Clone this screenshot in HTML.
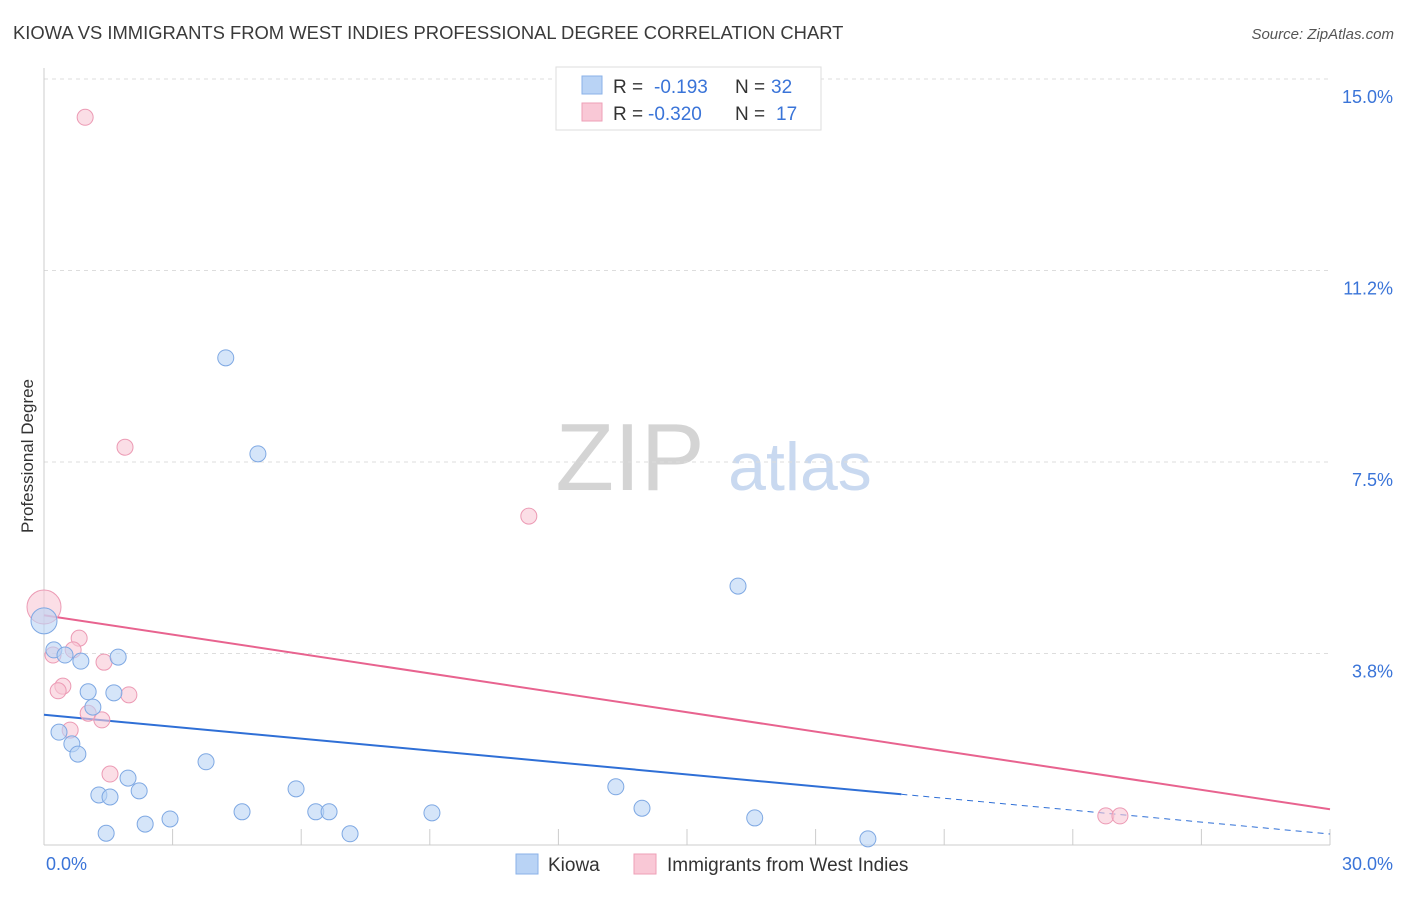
<!DOCTYPE html>
<html><head><meta charset="utf-8"><style>
body{margin:0;background:#fff;font-family:"Liberation Sans",sans-serif}
text{font-family:"Liberation Sans",sans-serif}
</style></head><body>
<svg id="chart" width="1406" height="892" xmlns="http://www.w3.org/2000/svg">
<text x="13" y="39" font-size="18.4" fill="#3a3a3a">KIOWA VS IMMIGRANTS FROM WEST INDIES PROFESSIONAL DEGREE CORRELATION CHART</text>
<text x="1394" y="39" font-size="15" fill="#555" text-anchor="end" font-style="italic">Source: ZipAtlas.com</text>
<text transform="translate(33,456) rotate(-90)" font-size="17" fill="#333" text-anchor="middle">Professional Degree</text>
<g>
<text x="630" y="490" font-size="96" fill="#d4d4d4" font-family="Liberation Serif,serif" text-anchor="middle">ZIP</text>
<text x="800" y="490" font-size="68" fill="#c9d9f0" text-anchor="middle">atlas</text>
</g>
<g id="grid"></g>
<g id="axes"></g>
<g id="lines"></g>
<g id="points"></g>
<g>
<rect x="556" y="67" width="265" height="63" fill="#fff" stroke="#ddd"/>
<rect x="582" y="76" width="20" height="18" fill="#b9d3f5" stroke="#8ab1e8"/>
<text x="613" y="93" font-size="19" fill="#333">R = </text><text x="654" y="93" font-size="19" fill="#3a74d8">-0.193</text>
<text x="735" y="93" font-size="19" fill="#333">N = </text><text x="771" y="93" font-size="19" fill="#3a74d8">32</text>
<rect x="582" y="103" width="20" height="18" fill="#f9c8d6" stroke="#ee9fb7"/>
<text x="613" y="120" font-size="19" fill="#333">R = </text><text x="648" y="120" font-size="19" fill="#3a74d8">-0.320</text>
<text x="735" y="120" font-size="19" fill="#333">N = </text><text x="776" y="120" font-size="19" fill="#3a74d8">17</text>
</g>
<g>
<rect x="516" y="854" width="22" height="20" fill="#b9d3f5" stroke="#8ab1e8"/>
<text x="548" y="871" font-size="19" fill="#333">Kiowa</text>
<rect x="634" y="854" width="22" height="20" fill="#f9c8d6" stroke="#ee9fb7"/>
<text x="667" y="871" font-size="19" fill="#333">Immigrants from West Indies</text>
</g>
</svg>
<script>
const yTicks=[3.75,7.5,11.25,15];
const yTickLabels=["3.8%","7.5%","11.2%","15.0%"];
const xTickLabels=["0.0%","30.0%"];
const kiowaX=[0,0.23,0.49,0.86,1.73,1.03,1.63,1.14,0.35,0.65,0.79,3.78,1.96,2.22,1.28,1.54,4.24,4.99,16.19,4.62,5.88,6.34,6.65,9.05,13.34,13.95,16.58,2.94,2.36,1.45,7.14,19.22];
const kiowaY=[4.39,3.82,3.72,3.60,3.68,3.0,2.98,2.70,2.21,1.98,1.78,1.63,1.31,1.06,0.98,0.94,9.54,7.66,5.07,0.65,1.10,0.65,0.65,0.63,1.14,0.72,0.53,0.51,0.41,0.23,0.22,0.12];
const wiX=[0,0.96,1.89,11.31,0.82,0.21,0.68,1.40,0.44,0.33,1.98,1.03,1.35,0.61,1.54,24.77,25.1];
const wiY=[4.66,14.25,7.79,6.44,4.05,3.72,3.82,3.58,3.11,3.02,2.94,2.58,2.45,2.25,1.39,0.57,0.57];
const kiowaTrend=[2.55,0.215];
const wiTrend=[4.50,0.70];
const NS="http://www.w3.org/2000/svg";
const X0=44,X1=1330,Y0=845,YT=79;
const sx=v=>X0+(X1-X0)*v/30;
const sy=v=>Y0-(Y0-YT)*v/15;
function mk(tag,attrs,parent){const e=document.createElementNS(NS,tag);for(const k in attrs)e.setAttribute(k,attrs[k]);document.getElementById(parent).appendChild(e);return e;}
yTicks.forEach((t,i)=>{
 const l=mk('line',{x1:X0,x2:X1,y1:sy(t),y2:sy(t),stroke:'#ddd','stroke-dasharray':'4,4'},'grid');
 
 
 const tx=mk('text',{x:1393,y:sy(t)+24,'font-size':18,fill:'#3a74d8','text-anchor':'end'},'grid');
 tx.textContent=yTickLabels[i];
 
 
});
const ax=mk('line',{x1:X0,x2:X0,y1:68,y2:Y0,stroke:'#ccc'},'axes');


const bx=mk('line',{x1:X0,x2:X1,y1:Y0,y2:Y0,stroke:'#ccc'},'axes');


for(let v=3;v<=30;v+=3){
 const t=mk('line',{x1:sx(v),x2:sx(v),y1:Y0-16,y2:Y0,stroke:'#ccc'},'axes');
 
 
}
[[0,'start',46],[30,'end',1393]].forEach((d,i)=>{
 const t=mk('text',{x:d[2],y:870,'font-size':18,fill:'#3a74d8','text-anchor':d[1]},'axes');
 t.textContent=xTickLabels[i];
 
 
});
const ky=x=>kiowaTrend[0]+(kiowaTrend[1]-kiowaTrend[0])*x/30;
const l1=mk('line',{x1:sx(0),y1:sy(ky(0)),x2:sx(20),y2:sy(ky(20)),stroke:'#2f6fd6','stroke-width':2},'lines');


const l2=mk('line',{x1:sx(20),y1:sy(ky(20)),x2:sx(30),y2:sy(ky(30)),stroke:'#2f6fd6','stroke-width':1,'stroke-dasharray':'6,5'},'lines');


const l3=mk('line',{x1:sx(0),y1:sy(wiTrend[0]),x2:sx(30),y2:sy(wiTrend[1]),stroke:'#e8638f','stroke-width':2},'lines');


function pts(xs,ys,fill,stroke,name){
 xs.forEach((x,i)=>{
  const r=(i===0)?(name==='kiowa-point'?13:17):8;
  const c=mk('circle',{cx:sx(x),cy:sy(ys[i]),r:r,fill:fill,stroke:stroke,'stroke-width':1,'fill-opacity':0.6},'points');
  
  
 });
}
pts(wiX,wiY,'#f9c8d6','#ec9ab4','west-indies-point');
pts(kiowaX,kiowaY,'#b9d3f5','#7ea8e3','kiowa-point');
</script>
</body></html>
